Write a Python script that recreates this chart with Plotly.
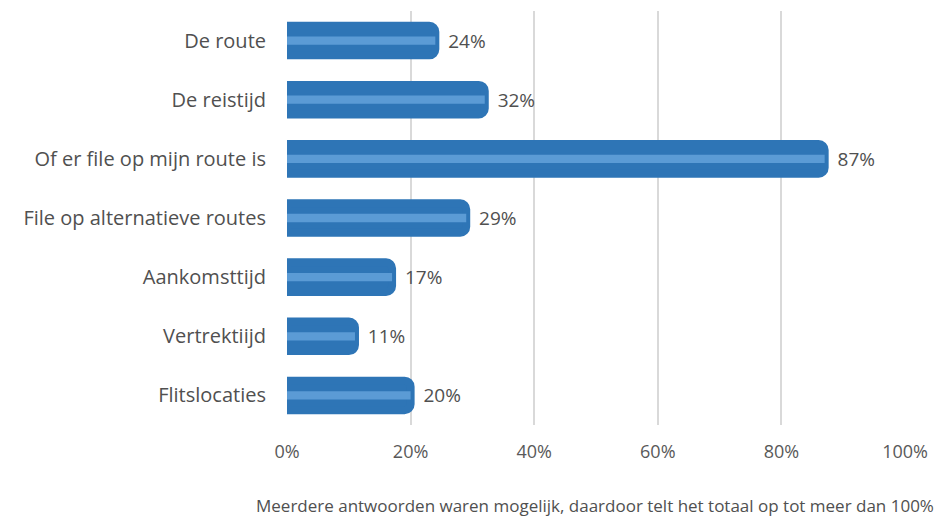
import plotly.graph_objects as go

categories = [
    "De route",
    "De reistijd",
    "Of er file op mijn route is",
    "File op alternatieve routes",
    "Aankomsttijd",
    "Vertrektiijd",
    "Flitslocaties",
]
values = [24, 32, 87, 29, 17, 11, 20]
tick_vals = [0, 20, 40, 60, 80, 100]
tick_text = ["0%", "20%", "40%", "60%", "80%", "100%"]
footnote = "Meerdere antwoorden waren mogelijk, daardoor telt het totaal op tot meer dan 100%"

font = "Open Sans"
text_color = "#505050"
pad = "\u00a0\u00a0"

fig = go.Figure()

# main bars with thick outline (gives the rounded, slightly oversized look)
fig.add_trace(go.Bar(
    y=categories, x=values, orientation="h",
    width=0.5,
    marker=dict(color="#2E75B6", line=dict(color="#2E75B6", width=8), cornerradius=6),
    text=[f"{pad}{v}%" for v in values], textposition="outside",
    textfont=dict(family=font, size=19, color=text_color),
    cliponaxis=False, hoverinfo="skip",
))

# lighter inner stripe
fig.add_trace(go.Bar(
    y=categories, x=values, orientation="h",
    width=0.14,
    marker=dict(color="#5B9BD5", line=dict(width=0)),
    hoverinfo="skip",
))

# page body has an 8px margin, so the figure is shifted by 8px
fig.update_layout(
    width=936, height=508,
    barmode="overlay",
    showlegend=False,
    plot_bgcolor="white", paper_bgcolor="white",
    margin=dict(l=279, r=39, t=3, b=91, autoexpand=False),
    font=dict(family=font, size=18, color=text_color),
)

fig.update_xaxes(
    range=[0, 100], tickvals=tick_vals, ticktext=tick_text,
    showgrid=True, gridcolor="#D9D9D9", gridwidth=1.5,
    zeroline=False, ticks="", ticklabelstandoff=14,
    tickfont=dict(family=font, size=18, color="#595959"),
)
fig.update_yaxes(
    categoryorder="array", categoryarray=categories[::-1],
    showgrid=False, ticks="", ticklabelstandoff=20,
    tickfont=dict(family=font, size=20, color=text_color),
)

fig.add_annotation(
    text=footnote, xref="paper", yref="paper",
    x=1.05, y=-0.195, xanchor="right", yanchor="middle",
    showarrow=False, font=dict(family=font, size=17, color="#505050"),
)

fig.write_html("out.html")
